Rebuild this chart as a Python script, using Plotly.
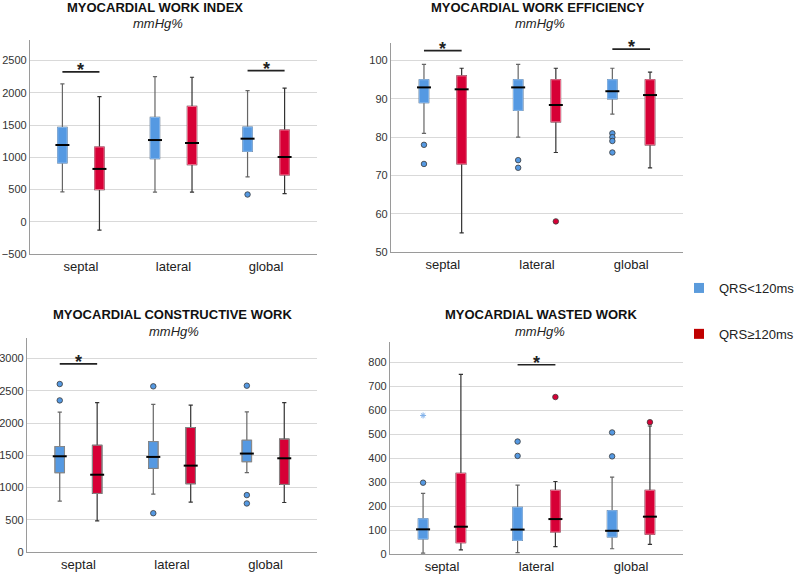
import plotly.graph_objects as go

W, H = 797, 576

CATEGORIES = ["septal", "lateral", "global"]
GROUPS = ["QRS<120ms", "QRS≥120ms"]

# five-number summaries per category: [lower whisker, Q1, median, Q3, upper whisker]
WI_NARROW = [[464, 912, 1191, 1464, 2139], [459, 979, 1268, 1619, 2253], [696, 1093, 1289, 1469, 2036]]
WI_WIDE = [[-129, 500, 820, 1160, 1943], [459, 887, 1222, 1789, 2242], [438, 727, 1005, 1423, 2072]]
WI_NARROW_OUT = [[], [], [423]]
WI_WIDE_OUT = [[], [], []]
WI_SIG = {"septal": 2325, "global": 2345}

EF_NARROW = [[81, 89, 93, 95, 99], [80, 87, 93, 95, 99], [86, 90, 92, 95, 98]]
EF_WIDE = [[55, 73, 92.5, 96, 98], [76, 84, 88.4, 95, 98], [72, 78, 91, 95, 97]]
EF_NARROW_OUT = [[78, 73], [74, 72], [81, 80, 79, 76]]
EF_WIDE_OUT = [[], [58], []]
EF_SIG = {"septal": 102.6, "global": 103}

CW_NARROW = [[789, 1231, 1485, 1636, 2170], [898, 1298, 1475, 1713, 2290], [1231, 1402, 1527, 1734, 2175]]
CW_WIDE = [[483, 909, 1199, 1656, 2316], [774, 1059, 1340, 1931, 2279], [768, 1049, 1454, 1750, 2316]]
CW_NARROW_OUT = [[2606, 2352], [2570, 602], [2580, 883, 753]]
CW_WIDE_OUT = [[], [], []]
CW_SIG = {"septal": 2918}

WW_NARROW = [[4, 63, 103, 147, 253], [6, 57, 102, 195, 288], [22, 71, 97, 181, 321]]
WW_WIDE = [[17, 47, 114, 337, 751], [31, 92, 146, 266, 303], [40, 83, 156, 266, 535]]
WW_NARROW_OUT = [[298], [470, 410], [508, 408]]
WW_NARROW_EXTREME = [[579], [], []]
WW_WIDE_OUT = [[], [656], [551]]
WW_SIG = {"lateral": 791}

TITLES = ["MYOCARDIAL WORK INDEX", "MYOCARDIAL WORK EFFICIENCY",
          "MYOCARDIAL CONSTRUCTIVE WORK", "MYOCARDIAL WASTED WORK"]
UNIT = "mmHg%"

# styling
BLUE = "#5599E2"
RED = "#D70036"
BLUE_EDGE = "#86B8EE"
RED_EDGE = "#EE7290"
GREY_EDGE = "#8a8a8a"
LEG_BLUE = "#5B9BDC"
LEG_RED = "#C00000"
FONT = "Liberation Sans, Arial, sans-serif"
OFFSET = 0.2
BOX_W = 0.1

# panel geometry in pixels: x0, x1, y0(top), y1(bottom)
PANELS = [
    dict(px=(30, 317), py=(40, 254), yr=(-500, 2820), dt=500, title=(155, 7.5), sub=(158, 23)),
    dict(px=(391, 683), py=(43, 252), yr=(50, 104.6), dt=10, title=(538, 8), sub=(540, 24)),
    dict(px=(27, 317), py=(338, 552), yr=(0, 3320), dt=500, title=(172, 314), sub=(174, 331)),
    dict(px=(390, 683), py=(342, 554), yr=(0, 886), dt=100, title=(541, 314), sub=(540, 331)),
]

fig = go.Figure()


def add_group(k, stats, outs, fill, edge, whisk, outfill, sign, extreme=None):
    xa = "x" if k == 1 else f"x{k}"
    ya = "y" if k == 1 else f"y{k}"
    pos = [i + sign * OFFSET for i in range(len(CATEGORIES))]
    lo = [s[0] for s in stats]
    q1 = [s[1] for s in stats]
    md = [s[2] for s in stats]
    q3 = [s[3] for s in stats]
    hi = [s[4] for s in stats]
    # whiskers
    fig.add_trace(go.Box(x=pos, q1=q1, median=md, q3=q3, lowerfence=lo, upperfence=hi,
                         width=BOX_W, fillcolor=fill, line=dict(color=whisk, width=1.2),
                         whiskerwidth=0.45, showlegend=False, hoverinfo="skip",
                         xaxis=xa, yaxis=ya))
    # box body
    fig.add_trace(go.Box(x=pos, q1=q1, median=md, q3=q3, lowerfence=q1, upperfence=q3,
                         width=BOX_W, fillcolor=fill, line=dict(color=edge, width=1),
                         whiskerwidth=0, showlegend=False, hoverinfo="skip",
                         xaxis=xa, yaxis=ya))
    # median
    fig.add_trace(go.Scatter(x=pos, y=md, mode="markers", showlegend=False, hoverinfo="skip",
                             marker=dict(symbol="line-ew", size=10,
                                         line=dict(color="black", width=2)),
                             xaxis=xa, yaxis=ya))
    ox, oy = [], []
    for i, vals in enumerate(outs):
        for v in vals:
            ox.append(pos[i])
            oy.append(v)
    if ox:
        fig.add_trace(go.Scatter(x=ox, y=oy, mode="markers", showlegend=False, hoverinfo="skip",
                                 marker=dict(symbol="circle", size=5.5, color=outfill,
                                             line=dict(color="#3a3a3a", width=0.8)),
                                 xaxis=xa, yaxis=ya))
    if extreme:
        ex, ey = [], []
        for i, vals in enumerate(extreme):
            for v in vals:
                ex.append(pos[i])
                ey.append(v)
        if ex:
            fig.add_trace(go.Scatter(x=ex, y=ey, mode="markers", showlegend=False,
                                     hoverinfo="skip",
                                     marker=dict(symbol="asterisk-open", size=5,
                                                 color="#7FB0EA",
                                                 line=dict(color="#7FB0EA", width=1)),
                                     xaxis=xa, yaxis=ya))


def add_sig(k, sig):
    xa = "x" if k == 1 else f"x{k}"
    ya = "y" if k == 1 else f"y{k}"
    for cat, v in sig.items():
        i = CATEGORIES.index(cat)
        fig.add_trace(go.Scatter(x=[i - OFFSET, i + OFFSET], y=[v, v], mode="lines",
                                 line=dict(color="#222", width=1.6), showlegend=False,
                                 hoverinfo="skip", xaxis=xa, yaxis=ya))
        fig.add_annotation(x=i, y=v, xref=xa, yref=ya, text="<b>*</b>", showarrow=False,
                           yanchor="bottom", yshift=-10,
                           font=dict(family=FONT, size=18, color="#222"))


datasets = [
    (WI_NARROW, WI_WIDE, WI_NARROW_OUT, WI_WIDE_OUT, WI_SIG, None),
    (EF_NARROW, EF_WIDE, EF_NARROW_OUT, EF_WIDE_OUT, EF_SIG, None),
    (CW_NARROW, CW_WIDE, CW_NARROW_OUT, CW_WIDE_OUT, CW_SIG, None),
    (WW_NARROW, WW_WIDE, WW_NARROW_OUT, WW_WIDE_OUT, WW_SIG, WW_NARROW_EXTREME),
]

layout = dict(width=W, height=H, margin=dict(l=0, r=0, t=0, b=0, autoexpand=False),
              paper_bgcolor="white", plot_bgcolor="white", showlegend=True,
              font=dict(family=FONT, color="#222"))

for k, (p, d) in enumerate(zip(PANELS, datasets), start=1):
    nb, wd, nbo, wdo, sig, ext = d
    eb = GREY_EDGE if k == 3 else BLUE_EDGE
    er = GREY_EDGE if k == 3 else RED_EDGE
    add_group(k, nb, nbo, BLUE, eb, "#666", BLUE, -1, ext)
    add_group(k, wd, wdo, RED, er, "#333", RED, +1)
    add_sig(k, sig)
    sx = "" if k == 1 else str(k)
    layout[f"xaxis{sx}"] = dict(domain=[p["px"][0] / W, p["px"][1] / W], range=[-0.55, 2.55],
                                tickvals=list(range(len(CATEGORIES))), ticktext=CATEGORIES,
                                showgrid=False, zeroline=False, showline=True,
                                linecolor="#9a9a9a", linewidth=1.3, ticks="",
                                tickfont=dict(size=13, color="#222"), anchor=f"y{sx}",
                                fixedrange=True, automargin=False)
    layout[f"yaxis{sx}"] = dict(domain=[(H - p["py"][1]) / H, (H - p["py"][0]) / H],
                                range=list(p["yr"]), dtick=p["dt"], tick0=0,
                                showgrid=True, gridcolor="#d9d9d9", gridwidth=1,
                                zeroline=False, showline=True, linecolor="#9a9a9a",
                                linewidth=1.3, ticks="", tickfont=dict(size=11, color="#333"),
                                anchor=f"x{sx}", fixedrange=True, automargin=False)
    fig.add_annotation(x=p["title"][0] / W, y=(H - p["title"][1]) / H, xref="paper",
                       yref="paper", text=f"<b>{TITLES[k - 1]}</b>", showarrow=False,
                       xanchor="center", yanchor="middle",
                       font=dict(family=FONT, size=13, color="#111"))
    fig.add_annotation(x=p["sub"][0] / W, y=(H - p["sub"][1]) / H, xref="paper",
                       yref="paper", text=f"<i>{UNIT}</i>", showarrow=False,
                       xanchor="center", yanchor="middle",
                       font=dict(family=FONT, size=13, color="#222"))

# legend entries
fig.add_trace(go.Scatter(x=[None], y=[None], mode="markers", name=GROUPS[0], legendgroup="a",
                         marker=dict(symbol="square", size=10, color=LEG_BLUE)))
fig.add_trace(go.Scatter(x=[None], y=[None], mode="markers", name=GROUPS[1], legendgroup="b",
                         marker=dict(symbol="square", size=10, color=LEG_RED)))

layout["legend"] = dict(x=679 / W, y=(H - 273) / H, xanchor="left", yanchor="top",
                        font=dict(family=FONT, size=13, color="#222"),
                        tracegroupgap=26, itemwidth=30, bgcolor="rgba(0,0,0,0)")
fig.update_layout(**layout)

fig.write_html("out.html", config={"displayModeBar": False},
               post_script="document.body.style.margin='0px';document.body.style.overflow='hidden';")
